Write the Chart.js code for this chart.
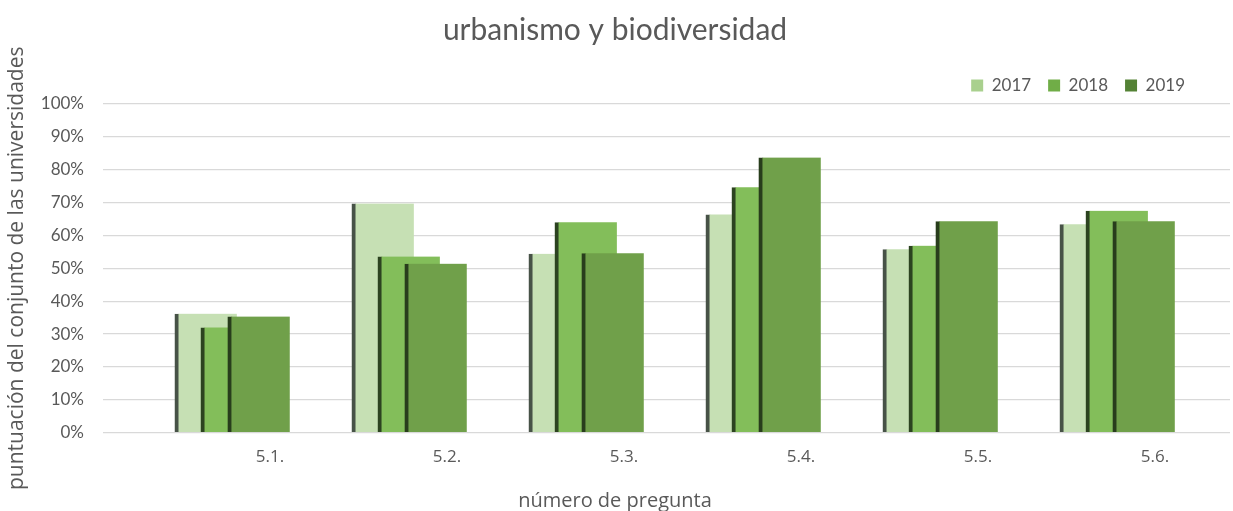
<!DOCTYPE html>
<html>
<head>
<meta charset="utf-8">
<script src="https://cdn.jsdelivr.net/npm/chart.js@4.4.1/dist/chart.umd.min.js"></script>
<style>
  html, body { margin: 0; padding: 0; background: #ffffff; }
  #contenedor { width: 1233px; height: 511px; }
</style>
</head>
<body>
<div id="contenedor"><canvas id="grafico__main"></canvas></div>
<script>
// datos (porcentaje)
const preguntas = ['5.1.', '5.2.', '5.3.', '5.4.', '5.5.', '5.6.'];
const anios = ['2017', '2018', '2019'];
const valores2017 = [36.2, 69.7, 54.4, 66.4, 55.8, 63.4];
const valores2018 = [32.0, 53.6, 64.0, 74.7, 56.9, 67.5];
const valores2019 = [35.3, 51.4, 54.6, 83.7, 64.3, 64.3];
const ticksY = [0, 10, 20, 30, 40, 50, 60, 70, 80, 90, 100];

// estilos
const colorBarra = ['#c6e0b4', '#83be5a', '#70a04a'];
const colorBorde = ['#475247', '#2c4320', '#283d1c'];
const colorLeyenda = ['#a9d08e', '#70ad47', '#548235'];
const desplazamiento = [-0.362, -0.215, -0.063]; // corrimiento de cada serie dentro del grupo
const gris = '#595959';

Chart.defaults.font.family = 'Lato';
Chart.defaults.color = gris;

const series = [valores2017, valores2018, valores2019];

const datasets = series.map((vals, s) => ({
  label: anios[s],
  data: vals.map((v, i) => ({ x: i + desplazamiento[s], y: v })),
  backgroundColor: colorBarra[s],
  borderColor: colorBorde[s],
  borderWidth: { left: 4, top: 0, right: 0, bottom: 0 },
  borderSkipped: false,
  barThickness: 62,
  grouped: false,
  order: 3 - s // 2019 queda encima
}));

// corre la leyenda un poco hacia la izquierda
const moverLeyenda = {
  id: 'moverLeyenda',
  afterLayout(chart) {
    chart.legend.right -= 28;
  }
};

new Chart(document.querySelector('#grafico__main'), {
  type: 'bar',
  data: { datasets: datasets },
  plugins: [moverLeyenda],
  options: {
    responsive: true,
    maintainAspectRatio: false,
    animation: false,
    layout: { padding: { top: 12, right: 3, bottom: 0, left: 0 } },
    plugins: {
      title: {
        display: true,
        text: 'urbanismo y biodiversidad',
        font: { size: 30, weight: 'normal' },
        color: gris,
        padding: { top: 0, bottom: 12 }
      },
      subtitle: {
        display: true,
        position: 'bottom',
        text: 'número de pregunta',
        font: { family: 'Open Sans', size: 20, lineHeight: 1.0 },
        color: gris,
        padding: { top: 10, bottom: 0 }
      },
      legend: {
        position: 'top',
        align: 'end',
        labels: {
          boxWidth: 12,
          boxHeight: 12,
          padding: 17,
          font: { size: 17 },
          color: gris,
          sort: (a, b) => a.datasetIndex - b.datasetIndex,
          generateLabels: (chart) => anios.map((a, s) => ({
            text: a,
            fillStyle: colorLeyenda[s],
            strokeStyle: colorLeyenda[s],
            lineWidth: 0,
            fontColor: gris,
            datasetIndex: s,
            hidden: false
          }))
        }
      },
      tooltip: { enabled: false }
    },
    scales: {
      x: {
        type: 'linear',
        min: -0.943,
        max: 5.424,
        offset: false,
        grid: { display: false, offset: false, drawTicks: false },
        border: { display: false },
        afterBuildTicks: (scale) => {
          scale.ticks = preguntas.map((p, i) => ({ value: i }));
        },
        ticks: {
          padding: 14,
          maxRotation: 0,
          font: { family: 'Open Sans', size: 17 },
          color: gris,
          callback: (v) => preguntas[v]
        }
      },
      y: {
        min: 0,
        max: 100,
        afterBuildTicks: (scale) => {
          scale.ticks = ticksY.map(v => ({ value: v }));
        },
        afterFit: (scale) => { scale.width = 103; },
        grid: { color: '#d9d9d9', lineWidth: 1.2, drawTicks: false },
        border: { display: false },
        ticks: {
          padding: 19,
          font: { size: 17 },
          color: gris,
          callback: (v) => v + '%'
        },
        title: {
          display: true,
          text: 'puntuación del conjunto de las universidades',
          font: { family: 'Open Sans', size: 21 },
          color: gris,
          padding: { top: 4, bottom: 0 }
        }
      }
    }
  }
});
</script>
</body>
</html>
